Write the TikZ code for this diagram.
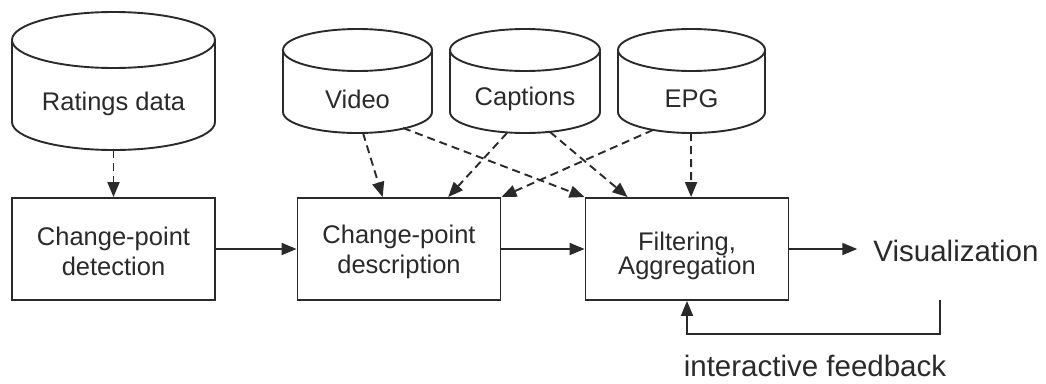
\documentclass[tikz,border=0pt]{standalone}
\usepackage{fontspec}
\setmainfont{Liberation Sans}
\usetikzlibrary{arrows.meta,calc}
\definecolor{ink}{HTML}{2A2A2A}
\newcommand\dbcyl[5]{% cx rx ytopcenter ybotcenter ry
  \draw[lw, fill=white] ({#1-#2},#3) -- ({#1-#2},#4) arc[start angle=180,end angle=0,x radius=#2,y radius=#5] -- ({#1+#2},#3);
  \draw[lw, fill=white] (#1,#3) ellipse[x radius=#2, y radius=#5];
}
\tikzset{
  lw/.style={line width=1.9pt, draw=ink},
  box/.style={lw, rectangle, minimum width=203pt, minimum height=102pt, inner sep=0pt},
  lbl/.style={font=\fontsize{25.5}{30}\selectfont, text=ink, inner sep=0pt, align=center},
  big/.style={font=\fontsize{29.5}{34}\selectfont, text=ink, inner sep=0pt},
  flow/.style={lw, -{Triangle[length=15pt,width=12pt]}},
  feed/.style={flow, dash pattern=on 8pt off 5pt},
}
\begin{document}
\begin{tikzpicture}[x=1pt,y=-1pt]
\fill[white] (0,0) rectangle (1046,383);
\useasboundingbox (0,0) rectangle (1046,383);

% databases
\dbcyl{113.5}{101.5}{40}{122}{28}
\dbcyl{357.5}{74.5}{50}{112}{21}
\dbcyl{525}{75}{50}{112}{21}
\dbcyl{691.5}{73.5}{50}{112}{21}
\node[lbl] (ratings) at (113.5,104) {Ratings data};
\node[lbl] (video) at (357.5,99) {Video};
\node[lbl] (captions) at (525,99) {Captions};
\node[lbl] (epg) at (691.5,99) {EPG};

\coordinate (r0) at (113.5,150);
\coordinate (v1) at (363,133);
\coordinate (v2) at (403,128);
\coordinate (c1) at (507,133);
\coordinate (c2) at (550,132);
\coordinate (e1) at (653,130);
\coordinate (e2) at (691,133);

% boxes
\node[box] (det) at (113.5,249) {};
\node[box] (desc) at (399,249) {};
\node[box] (filt) at (687,249) {};
\node[lbl] (detl) at (113.5,251) {Change-point\\detection};
\node[lbl] (descl) at (399,252) {Change-point\\description};
\node[lbl, font=\fontsize{25.5}{24}\selectfont] (filtl) at (687,256) {Filtering,\\Aggregation};
\node[big] (vis) at (956,251) {Visualization};
\node[big] (fbl) at (815,366) {interactive feedback};
\coordinate (fb) at (940,300);

% dashed data flows
\draw[feed] (r0) -- (det.north);
\draw[feed] (v1) -- ($(desc.north west)!0.42!(desc.north east)$);
\draw[feed] (c1) -- ($(desc.north west)!0.74!(desc.north east)$);
\draw[feed] (e1) -- (desc.north east);
\draw[feed] (v2) -- (filt.north west);
\draw[feed] (c2) -- ($(filt.north west)!0.21!(filt.north east)$);
\draw[feed] (e2) -- ($(filt.north west)!0.52!(filt.north east)$);

% solid flows
\draw[flow] (det.east) -- (desc.west);
\draw[flow] (desc.east) -- (filt.west);
\draw[flow, shorten >=16pt] (filt.east) -- (filt.east -| vis.west);
\draw[flow] (fb) -- ++(0,34) -| (filt.south);
\end{tikzpicture}
\end{document}
